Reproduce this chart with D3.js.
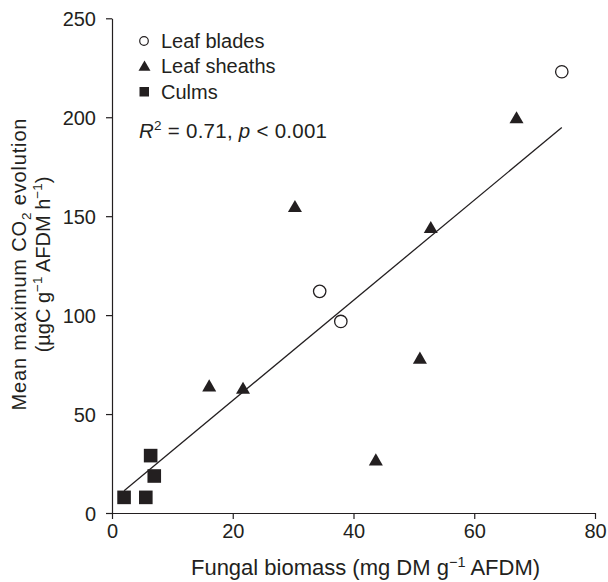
<!DOCTYPE html>
<html><head><meta charset="utf-8">
<script src="https://cdn.jsdelivr.net/npm/d3@7"></script>
<style>
body{margin:0;background:#fff;}
svg{font-family:"Liberation Sans",Arial,Helvetica,sans-serif;}
text{fill:#231f20;}
</style></head>
<body>
<svg id="c" width="608" height="582"></svg>
<script>
// Data
const bladesX = [74.5, 34.4, 37.9];
const bladesY = [223, 112, 96.8];
const sheathsX = [67.0, 30.3, 52.8, 16.1, 21.7, 51.0, 43.7];
const sheathsY = [199.5, 154.6, 144, 64, 62.8, 78, 26.6];
const culmsX = [2.0, 5.6, 6.4, 7.0];
const culmsY = [7.9, 7.9, 29, 18.7];
const fitX = [2, 74.5];
const fitY = [11.3, 194.8];
const xTicks = [0, 20, 40, 60, 80];
const yTicks = [0, 50, 100, 150, 200, 250];
const legendLabels = ["Leaf blades", "Leaf sheaths", "Culms"];

const ink = "#231f20";
const svg = d3.select("#c");
const x = d3.scaleLinear().domain([0, 80]).range([112, 595]);
const y = d3.scaleLinear().domain([0, 250]).range([513, 18.3]);
const fs = 20;
const sup = 13.5;

// Axes
const ax = svg.append("g").attr("transform", "translate(0,513)")
  .call(d3.axisBottom(x).tickValues(xTicks).tickSizeInner(6).tickSizeOuter(0).tickPadding(6));
const ay = svg.append("g").attr("transform", "translate(112,0)")
  .call(d3.axisLeft(y).tickValues(yTicks).tickSizeInner(6).tickSizeOuter(0).tickPadding(10));
[ax, ay].forEach(g => {
  g.selectAll("path,line").attr("stroke", ink).attr("stroke-width", 1.2);
  g.selectAll("text").attr("font-size", fs).attr("fill", ink).attr("font-family", "Liberation Sans, Arial, sans-serif");
});
ax.selectAll("text").attr("dy", null).attr("y", 25);
ay.selectAll("text").attr("dy", null).attr("dominant-baseline", null).attr("y", 7);

// Regression line
svg.append("line")
  .attr("x1", x(fitX[0])).attr("y1", y(fitY[0]))
  .attr("x2", x(fitX[1])).attr("y2", y(fitY[1]))
  .attr("stroke", ink).attr("stroke-width", 1.3);

// Markers
const tri = d3.symbol().type(d3.symbolTriangle).size(85);
svg.append("g").selectAll("path").data(sheathsX.map((v,i)=>[v,sheathsY[i]])).join("path")
  .attr("d", tri).attr("transform", d => `translate(${x(d[0])},${y(d[1])+1})`).attr("fill", ink);
svg.append("g").selectAll("rect").data(culmsX.map((v,i)=>[v,culmsY[i]])).join("rect")
  .attr("x", d => x(d[0]) - 6.8).attr("y", d => y(d[1]) - 6.8)
  .attr("width", 13.6).attr("height", 13.6).attr("fill", ink);
svg.append("g").selectAll("circle").data(bladesX.map((v,i)=>[v,bladesY[i]])).join("circle")
  .attr("cx", d => x(d[0])).attr("cy", d => y(d[1])).attr("r", 6.2)
  .attr("fill", "#fff").attr("stroke", ink).attr("stroke-width", 1.3);

// Legend
const lg = svg.append("g");
const rows = [47.5, 73.3, 98.5];
lg.append("circle").attr("cx", 144).attr("cy", rows[0] - 6.5).attr("r", 4.3)
  .attr("fill", "#fff").attr("stroke", ink).attr("stroke-width", 1.2);
lg.append("path").attr("d", d3.symbol().type(d3.symbolTriangle).size(62))
  .attr("transform", `translate(144.5,${rows[1] - 6})`).attr("fill", ink);
lg.append("rect").attr("x", 139.5).attr("y", rows[2] - 11.5).attr("width", 9.5).attr("height", 9.5).attr("fill", ink);
legendLabels.forEach((t, i) => {
  lg.append("text").attr("x", 161).attr("y", rows[i]).attr("font-size", fs).text(t);
});

// Stats text
const st = svg.append("text").attr("x", 139).attr("y", 138).attr("font-size", 20.5)
  .attr("textLength", 188).attr("lengthAdjust", "spacing");
st.append("tspan").attr("font-style", "italic").text("R");
st.append("tspan").attr("font-size", sup).attr("dy", -8).text("2");
st.append("tspan").attr("dy", 8).text(" = 0.71, ");
st.append("tspan").attr("font-style", "italic").text("p");
st.append("tspan").text(" < 0.001");

// X title
const xt = svg.append("text").attr("x", 365.5).attr("y", 575).attr("text-anchor", "middle").attr("font-size", 22);
xt.append("tspan").text("Fungal biomass (mg DM g");
xt.append("tspan").attr("font-size", 14.5).attr("dy", -8.5).text("\u22121");
xt.append("tspan").attr("dy", 8.5).text(" AFDM)");

// Y title
const yt = svg.append("g").attr("transform", "translate(0,264.5) rotate(-90)");
const l1 = yt.append("text").attr("x", -146).attr("y", 26).attr("font-size", fs)
  .attr("textLength", 292).attr("lengthAdjust", "spacing");
l1.append("tspan").text("Mean maximum CO");
l1.append("tspan").attr("font-size", sup).attr("dy", 5).text("2");
l1.append("tspan").attr("dy", -5).text(" evolution");
const l2 = yt.append("text").attr("x", 0).attr("y", 50).attr("text-anchor", "middle").attr("font-size", fs);
l2.append("tspan").text("(\u00b5gC g");
l2.append("tspan").attr("font-size", sup).attr("dy", -8).text("\u22121");
l2.append("tspan").attr("dy", 8).text(" AFDM h");
l2.append("tspan").attr("font-size", sup).attr("dy", -8).text("\u22121");
l2.append("tspan").attr("dy", 8).text(")");
</script>
</body></html>
